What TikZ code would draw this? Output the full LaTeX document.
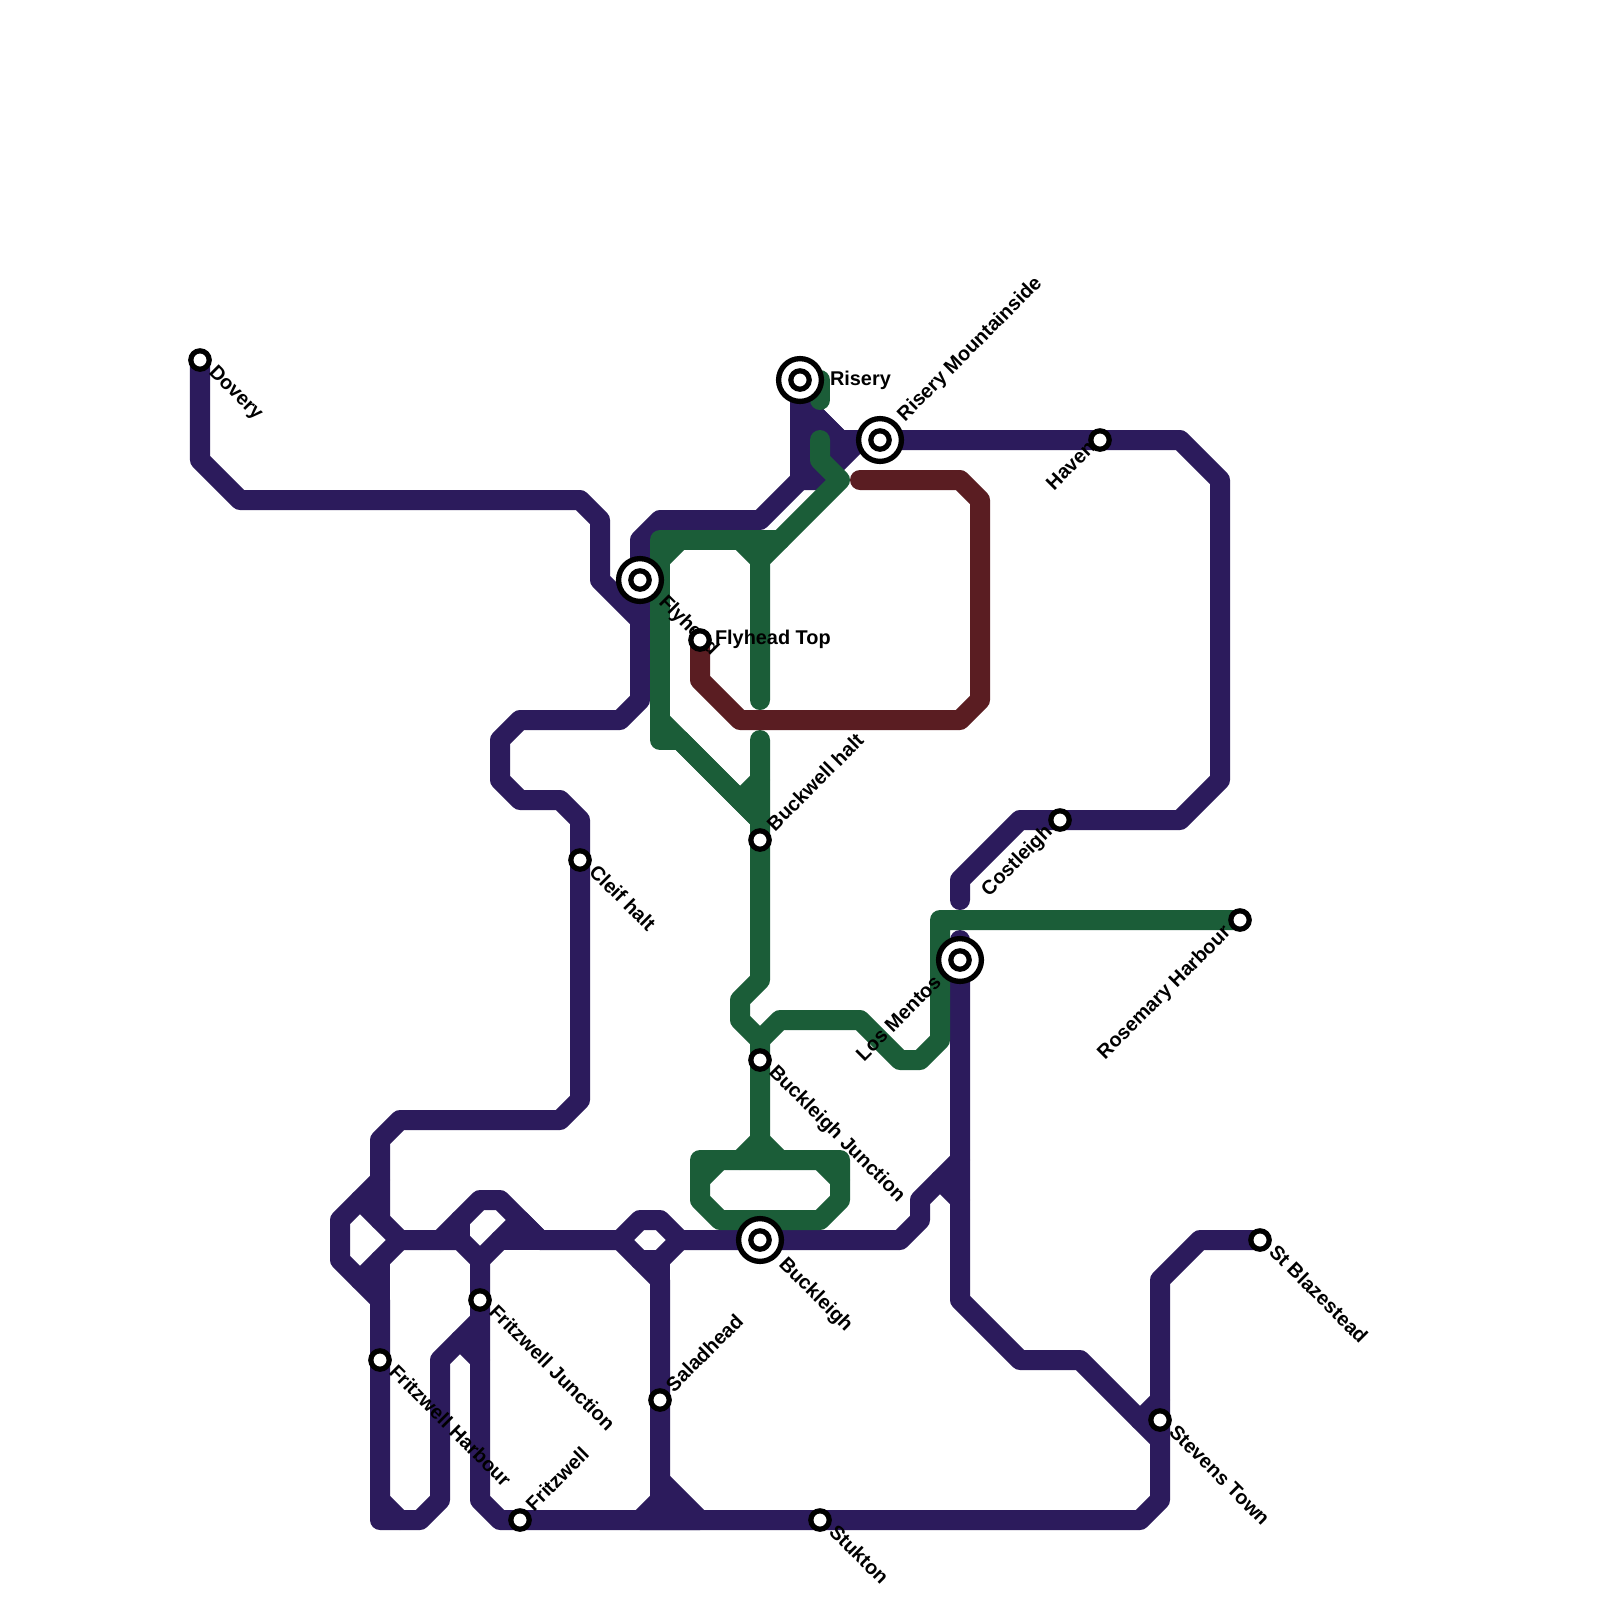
\documentclass[tikz,border=0pt]{standalone}
\usepackage{fontspec}
\setmainfont{Liberation Sans}
\definecolor{linepurple}{RGB}{44,27,92}
\definecolor{linegreen}{RGB}{27,93,56}
\definecolor{linemaroon}{RGB}{90,29,34}
\tikzset{
  route/.style={line width=0.5cm,line cap=round,line join=round},
  purple route/.style={route,draw=linepurple},
  green route/.style={route,draw=linegreen},
  maroon route/.style={route,draw=linemaroon},
  smallstation/.style={circle,draw=black,fill=white,line width=0.13cm,minimum size=0.46cm,inner sep=0pt,outer sep=0pt},
  bigstation/.style={circle,draw=black,fill=white,line width=0.133cm,minimum size=1.07cm,inner sep=0pt,outer sep=0pt},
  lbl/.style={font=\bfseries\fontsize{14.15}{16}\selectfont,text=black,inner sep=0pt,outer sep=0pt},
  lblh/.style={lbl,anchor=base west},
  lbldown/.style={lbl,anchor=base west,rotate=-45},
  lblup/.style={lbl,anchor=base west,rotate=45}
}
\begin{document}
\begin{tikzpicture}[x=0.025cm,y=-0.025cm]
\useasboundingbox (0,0) rectangle (1600,1600);
\fill[white] (0,0) rectangle (1600,1600);
\coordinate (cDovery) at (200,360);
\coordinate (cBlaze) at (1260,1240);
\coordinate (cRosemary) at (1240,920);
\coordinate (cFlyTop) at (700,640);
% purple
\draw[purple route] (cDovery)--(200,460)--(240,500)--(580,500)--(600,520)--(600,580)--(640,620)--(640,700)--(620,720)--(520,720)--(500,740)--(500,780)--(520,800)--(560,800)--(580,820)--(580,1100)--(560,1120)--(400,1120)--(380,1140)--(380,1220);
\draw[purple route] (360,1200)--(400,1240)--(460,1240)--(480,1260)--(480,1500)--(500,1520)--(1140,1520)--(1160,1500)--(1160,1280)--(1200,1240)--(cBlaze);
\draw[purple route] (380,1180)--(340,1220)--(340,1260)--(380,1300)--(380,1520)--(420,1520)--(440,1500)--(440,1360)--(480,1320);
\draw[purple route] (360,1280)--(400,1240);
\draw[purple route] (380,1260)--(380,1300);
\draw[purple route] (380,1500)--(400,1520);
\draw[purple route] (440,1240)--(480,1200)--(500,1200)--(540,1240)--(620,1240)--(640,1220)--(660,1220)--(680,1240)--(900,1240)--(920,1220)--(920,1200)--(960,1160);
\draw[purple route] (480,1260)--(520,1220)--(540,1240);
\draw[purple route] (500,1240)--(540,1240);
\draw[purple route] (460,1220)--(460,1240);
\draw[purple route] (460,1340)--(480,1360);
\draw[purple route] (620,1240)--(660,1280)--(660,1500);
\draw[purple route] (640,1260)--(660,1260)--(680,1240);
\draw[purple route] (660,1260)--(660,1280);
\draw[purple route,fill=linepurple] (660,1480)--(700,1520)--(640,1520)--(660,1500)--cycle;
\draw[purple route] (940,1180)--(960,1200);
\draw[purple route] (960,940)--(960,1300)--(1020,1360)--(1080,1360)--(1160,1440);
\draw[purple route] (1140,1420)--(1160,1400);
\draw[purple route] (960,900)--(960,880)--(1020,820)--(1180,820)--(1220,780)--(1220,480)--(1180,440)--(840,440)--(800,400)--(800,380);
\draw[purple route] (800,380)--(800,480)--(760,520)--(660,520)--(640,540)--(640,620);
\draw[purple route,fill=linepurple] (800,400)--(840,440)--(860,440)--(820,480)--(800,480)--cycle;
% green
\draw[green route] (820,380)--(820,400);
\draw[green route] (820,440)--(820,460)--(840,480)--(760,560)--(760,700);
\draw[green route] (680,740)--(660,740)--(660,540)--(780,540);
\draw[green route] (740,540)--(760,560);
\draw[green route] (660,560)--(680,540);
\draw[green route] (660,720)--(760,820);
\draw[green route] (680,740)--(760,820);
\draw[green route] (760,780)--(740,800);
\draw[green route] (760,740)--(760,980)--(740,1000)--(740,1020)--(760,1040)--(760,1140)--(740,1160);
\draw[green route] (760,1040)--(780,1020)--(860,1020)--(900,1060)--(920,1060)--(940,1040)--(940,920)--(cRosemary);
\draw[green route] (760,1140)--(780,1160);
\draw[green route] (700,1200)--(720,1220)--(820,1220)--(840,1200)--(840,1160)--(700,1160)--cycle;
\draw[green route] (700,1180)--(720,1160);
\draw[green route] (820,1160)--(840,1180);
% maroon
\draw[maroon route] (cFlyTop)--(700,680)--(740,720)--(960,720)--(980,700)--(980,500)--(960,480)--(860,480);
% labels
\node[lbldown] (lDovery) at (208,373) {Dovery};
\node[lbldown] (lCleif) at (588,873) {Cleif halt};
\node[lbldown] (lFlyhead) at (658,603) {Flyhead};
\node[lblh] (lFlyTop) at (715,644) {Flyhead Top};
\node[lblh] (lRisery) at (830,385) {Risery};
\node[lblup] (lMountain) at (905,422) {Risery Mountainside};
\node[lblup] (lHaven) at (1054,491) {Haven};
\node[lblup] (lCostleigh) at (989,897) {Costleigh};
\node[lblup] (lRosemary) at (1105,1060) {Rosemary Harbour};
\node[lblup] (lMentos) at (864,1062) {Los Mentos};
\node[lblup] (lBuckwell) at (775,832) {Buckwell halt};
\node[lbldown] (lBJunction) at (768,1073) {Buckleigh Junction};
\node[lbldown] (lBuckleigh) at (778,1265) {Buckleigh};
\node[lbldown] (lFJunction) at (488,1313) {Fritzwell Junction};
\node[lbldown] (lFHarbour) at (388,1373) {Fritzwell Harbour};
\node[lblup] (lFritzwell) at (534,1512) {Fritzwell};
\node[lblup] (lSaladhead) at (674,1393) {Saladhead};
\node[lbldown] (lStukton) at (828,1533) {Stukton};
\node[lbldown] (lStevens) at (1168,1433) {Stevens Town};
\node[lbldown] (lBlaze) at (1268,1253) {St Blazestead};
% stations
\node[smallstation] (sDovery) at (cDovery) {};
\node[smallstation] (sCleif) at (580,860) {};
\node[bigstation] (bFlyhead) at (640,580) {};
\node[smallstation] (sFlyhead) at (640,580) {};
\node[smallstation] (sFlyTop) at (cFlyTop) {};
\node[bigstation] (bRisery) at (800,380) {};
\node[smallstation] (sRisery) at (800,380) {};
\node[bigstation] (bMountain) at (880,440) {};
\node[smallstation] (sMountain) at (880,440) {};
\node[smallstation] (sHaven) at (1100,440) {};
\node[smallstation] (sCostleigh) at (1060,820) {};
\node[smallstation] (sRosemary) at (cRosemary) {};
\node[bigstation] (bMentos) at (960,960) {};
\node[smallstation] (sMentos) at (960,960) {};
\node[smallstation] (sBuckwell) at (760,840) {};
\node[smallstation] (sBJunction) at (760,1060) {};
\node[bigstation] (bBuckleigh) at (760,1240) {};
\node[smallstation] (sBuckleigh) at (760,1240) {};
\node[smallstation] (sFJunction) at (480,1300) {};
\node[smallstation] (sFHarbour) at (380,1360) {};
\node[smallstation] (sFritzwell) at (520,1520) {};
\node[smallstation] (sSaladhead) at (660,1400) {};
\node[smallstation] (sStukton) at (820,1520) {};
\node[smallstation] (sStevens) at (1160,1420) {};
\node[smallstation] (sBlaze) at (cBlaze) {};
\end{tikzpicture}
\end{document}
